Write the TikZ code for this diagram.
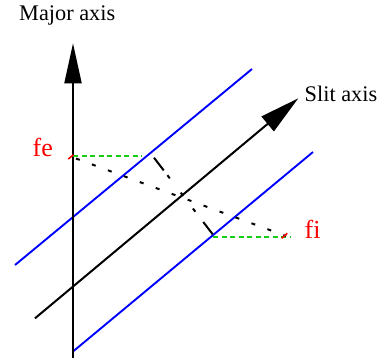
\documentclass[tikz,border=0pt]{standalone}
\usepackage{fontspec}
\setmainfont{Liberation Serif}
\usetikzlibrary{arrows.meta}
\definecolor{fgreen}{RGB}{20,205,20}
\begin{document}
\begin{tikzpicture}[x=1pt,y=-1pt,
  axis/.style={line width=2pt,black},
  slitline/.style={line width=1.9pt,blue},
  guide/.style={line width=2pt,fgreen,dash pattern=on 5pt off 3.5pt},
  tick/.style={line width=1.6pt,red},
  dotline/.style={line width=2pt,black,dash pattern=on 4pt off 13pt},
  perpline/.style={line width=2pt,black,dash pattern=on 16pt off 6pt on 4pt off 18pt on 4pt off 16pt on 4pt off 13pt on 16pt off 10pt},
  lbl/.style={inner sep=0pt,anchor=base west,font=\fontsize{22.3}{25}\selectfont},
  rlbl/.style={inner sep=0pt,anchor=base west,text=red,font=\fontsize{26}{30}\selectfont}]
\useasboundingbox (0,0) rectangle (382,362);
% coordinates
\coordinate (mb) at (73,358);
\coordinate (mt) at (73,43.3);
\coordinate (sb) at (35,318.3);
\coordinate (st) at (298.3,98.3);
\coordinate (u1) at (15,265);
\coordinate (u2) at (252,69);
\coordinate (l1) at (73,351.5);
\coordinate (l2) at (313,152);
\coordinate (g1a) at (73,156);
\coordinate (g1b) at (142,156);
\coordinate (g2a) at (213,236.7);
\coordinate (g2b) at (290,236.7);
\coordinate (fe1) at (68.3,159);
\coordinate (fe2) at (73.5,154.8);
\coordinate (fi1) at (281.7,238.3);
\coordinate (fi2) at (287.3,233.3);
\coordinate (d1) at (76,158.5);
\coordinate (d2) at (286,236);
\coordinate (p1) at (154,157.7);
\coordinate (p2) at (212.7,234.3);
% labels
\node[lbl] (major) at (19,20.7) {Major axis};
\node[lbl] (slit) at (304.5,101.7) {Slit axis};
\node[rlbl] (fe) at (32.5,156.7) {fe};
\node[rlbl] (fi) at (304.5,238) {fi};
% lines
\draw[slitline] (u1) -- (u2);
\draw[slitline] (l1) -- (l2);
\draw[axis,-{Triangle[length=40pt,width=17pt]}] (mb) -- (mt);
\draw[axis,-{Triangle[length=40pt,width=19pt]}] (sb) -- (st);
\draw[guide] (g1a) -- (g1b);
\draw[guide] (g2a) -- (g2b);
\draw[dotline] (d1) -- (d2);
\draw[perpline] (p1) -- (p2);
\draw[tick] (fe1) -- (fe2);
\draw[tick] (fi1) -- (fi2);
\end{tikzpicture}
\end{document}
